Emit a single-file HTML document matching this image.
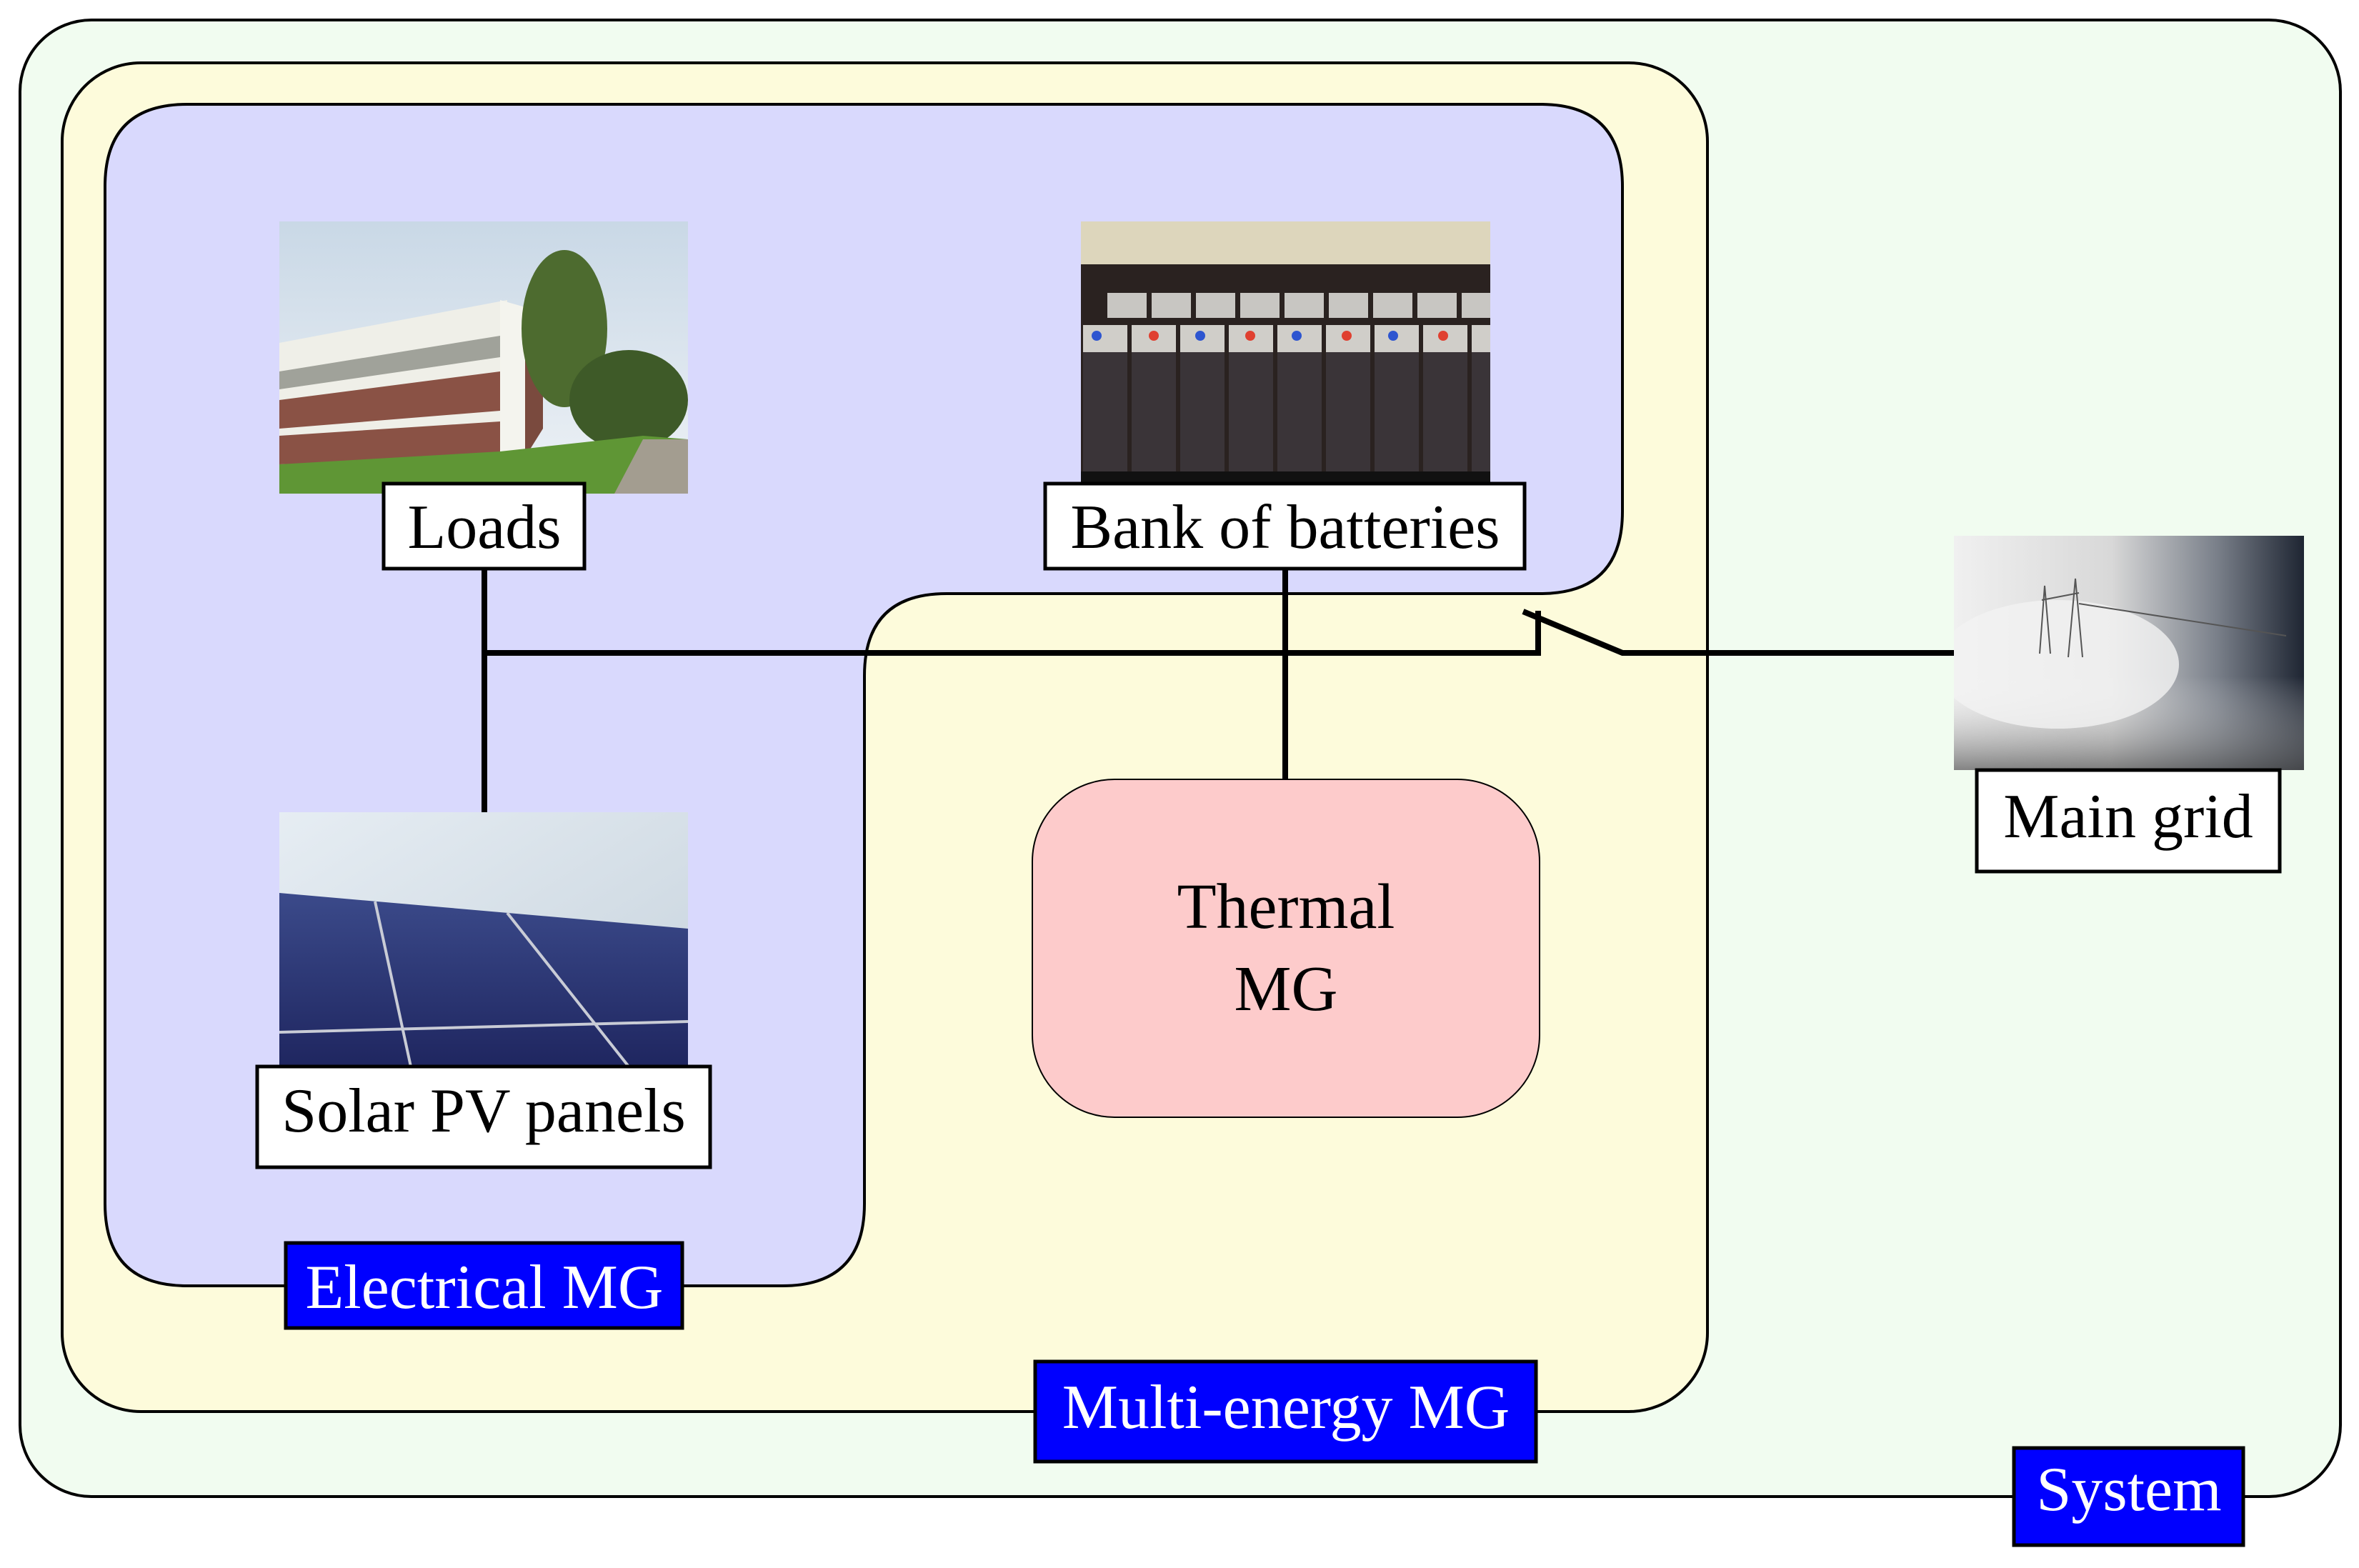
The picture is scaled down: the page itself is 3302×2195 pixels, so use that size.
<!DOCTYPE html>
<html><head><meta charset="utf-8"><style>
html,body{margin:0;padding:0;background:#fff}
svg{display:block}
text{font-family:"Liberation Serif",serif}
</style></head><body>
<svg width="3302" height="2195" viewBox="0 0 3302 2195" xmlns="http://www.w3.org/2000/svg">
<defs>
<linearGradient id="sky" x1="0" y1="0" x2="0" y2="1"><stop offset="0" stop-color="#c9d8e6"/><stop offset="1" stop-color="#eef2f6"/></linearGradient>
<linearGradient id="sky2" x1="0" y1="0" x2="1" y2="1"><stop offset="0" stop-color="#e6edf3"/><stop offset="1" stop-color="#c7d3dd"/></linearGradient>
<linearGradient id="fog" x1="0" y1="0" x2="1" y2="0"><stop offset="0" stop-color="#f0f0f0"/><stop offset="0.45" stop-color="#d8d8d8"/><stop offset="0.75" stop-color="#7a808a"/><stop offset="1" stop-color="#1e2532"/></linearGradient>
<linearGradient id="fogb" x1="0" y1="0" x2="0" y2="1"><stop offset="0.6" stop-color="#ffffff" stop-opacity="0"/><stop offset="1" stop-color="#555" stop-opacity="0.7"/></linearGradient>
<linearGradient id="panel" x1="0" y1="0" x2="0" y2="1"><stop offset="0" stop-color="#3b4a8a"/><stop offset="1" stop-color="#1f2660"/></linearGradient>
<clipPath id="gclip"><rect x="2735" y="750" width="490" height="328"/></clipPath>
</defs>

<rect x="28" y="28" width="3248" height="2067" rx="100" fill="#f1fcf0" stroke="#000" stroke-width="4"/>
<rect x="87" y="88" width="2303" height="1888" rx="110" fill="#fdfbdb" stroke="#000" stroke-width="4"/>
<path d="M262,146 H2156 Q2271,146 2271,261 V716 Q2271,831 2156,831 H1325 Q1210,831 1210,946 V1685 Q1210,1800 1095,1800 H262 Q147,1800 147,1685 V261 Q147,146 262,146 Z" fill="#d9d9fd" stroke="#000" stroke-width="4"/>

<rect x="1445" y="1091" width="710" height="473" rx="115" fill="#fdcbcb" stroke="#000" stroke-width="2"/>
<text x="1800" y="1299" font-size="90" text-anchor="middle">Thermal</text>
<text x="1800" y="1414" font-size="90" text-anchor="middle">MG</text>

<g stroke="#000" stroke-width="8" fill="none">
<line x1="678" y1="796" x2="678" y2="1137"/>
<polyline points="678,914 2153,914 2153,855"/>
<line x1="1799" y1="796" x2="1799" y2="1091"/>
<polyline points="2132,856 2271,914 2735,914"/>
</g>

<g>
<rect x="391" y="310" width="572" height="381" fill="url(#sky)"/>
<polygon points="391,480 710,420 710,640 391,660" fill="#efefe8"/>
<polygon points="391,520 700,470 700,500 391,545" fill="#a0a29a"/>
<polygon points="391,560 700,520 700,575 391,600" fill="#8a5245"/>
<polygon points="391,610 700,590 700,640 391,650" fill="#8a5245"/>
<polygon points="700,420 735,430 735,640 700,640" fill="#f4f4ee"/>
<polygon points="735,430 760,450 760,600 735,640" fill="#7a4a3e"/>
<ellipse cx="790" cy="460" rx="60" ry="110" fill="#4d6b2f"/>
<ellipse cx="880" cy="560" rx="83" ry="70" fill="#3e5a28"/>
<polygon points="391,650 700,632 900,610 963,615 963,691 391,691" fill="#5f9635"/>
<polygon points="860,691 900,615 963,615 963,691" fill="#a39d90"/>
</g>

<g>
<rect x="1513" y="310" width="573" height="366" fill="#2a2220"/>
<rect x="1513" y="310" width="573" height="60" fill="#ddd6bc"/>
<g fill="#c8c6c2">
<rect x="1550" y="410" width="55" height="35"/><rect x="1612" y="410" width="55" height="35"/><rect x="1674" y="410" width="55" height="35"/><rect x="1736" y="410" width="55" height="35"/><rect x="1798" y="410" width="55" height="35"/><rect x="1860" y="410" width="55" height="35"/><rect x="1922" y="410" width="55" height="35"/><rect x="1984" y="410" width="55" height="35"/><rect x="2046" y="410" width="40" height="35"/>
</g>
<g fill="#3a3438">
<rect x="1516" y="490" width="62" height="170"/><rect x="1584" y="490" width="62" height="170"/><rect x="1652" y="490" width="62" height="170"/><rect x="1720" y="490" width="62" height="170"/><rect x="1788" y="490" width="62" height="170"/><rect x="1856" y="490" width="62" height="170"/><rect x="1924" y="490" width="62" height="170"/><rect x="1992" y="490" width="62" height="170"/><rect x="2060" y="490" width="26" height="170"/>
</g>
<g fill="#d0cec9">
<rect x="1516" y="455" width="62" height="38"/><rect x="1584" y="455" width="62" height="38"/><rect x="1652" y="455" width="62" height="38"/><rect x="1720" y="455" width="62" height="38"/><rect x="1788" y="455" width="62" height="38"/><rect x="1856" y="455" width="62" height="38"/><rect x="1924" y="455" width="62" height="38"/><rect x="1992" y="455" width="62" height="38"/><rect x="2060" y="455" width="26" height="38"/>
</g>
<g fill="#2d55d0"><circle cx="1535" cy="470" r="7"/><circle cx="1680" cy="470" r="7"/><circle cx="1815" cy="470" r="7"/><circle cx="1950" cy="470" r="7"/></g>
<g fill="#e04030"><circle cx="1615" cy="470" r="7"/><circle cx="1750" cy="470" r="7"/><circle cx="1885" cy="470" r="7"/><circle cx="2020" cy="470" r="7"/></g>
<rect x="1513" y="660" width="573" height="16" fill="#111"/>
</g>

<g>
<rect x="391" y="1137" width="572" height="356" fill="url(#sky2)"/>
<polygon points="391,1250 963,1300 963,1493 391,1493" fill="url(#panel)"/>
<g stroke="#c9ccd6" stroke-width="4">
<line x1="525" y1="1262" x2="575" y2="1493"/>
<line x1="710" y1="1278" x2="880" y2="1493"/>
<line x1="391" y1="1445" x2="963" y2="1430"/>
</g>
</g>

<g clip-path="url(#gclip)">
<rect x="2735" y="750" width="490" height="328" fill="url(#fog)"/>
<rect x="2735" y="750" width="490" height="328" fill="url(#fogb)"/>
<ellipse cx="2880" cy="930" rx="170" ry="90" fill="#f2f2f2" opacity="0.8"/>
<g stroke="#555" stroke-width="2" fill="none">
<polyline points="2855,915 2862,820 2870,915"/><polyline points="2895,920 2905,810 2915,920"/>
<line x1="2858" y1="840" x2="2910" y2="830"/>
<line x1="2910" y1="845" x2="3200" y2="890"/>
</g>
</g>

<g stroke="#000" stroke-width="5">
<rect x="537" y="677" width="281" height="119" fill="#fff"/>
<rect x="1463" y="677" width="671" height="119" fill="#fff"/>
<rect x="360" y="1493" width="634" height="141" fill="#fff"/>
<rect x="2767" y="1078" width="424" height="142" fill="#fff"/>
<rect x="400" y="1740" width="555" height="119" fill="#0000ff"/>
<rect x="1449" y="1906" width="701" height="140" fill="#0000ff"/>
<rect x="2819" y="2027" width="321" height="136" fill="#0000ff"/>
</g>
<g font-size="88" text-anchor="middle">
<text x="678" y="767">Loads</text>
<text x="1799" y="767">Bank of batteries</text>
<text x="677" y="1584">Solar PV panels</text>
<text x="2979" y="1172">Main grid</text>
<text x="678" y="1831" fill="#fff">Electrical MG</text>
<text x="1800" y="1999" fill="#fff">Multi-energy MG</text>
<text x="2980" y="2114" fill="#fff">System</text>
</g>
</svg>
</body></html>
